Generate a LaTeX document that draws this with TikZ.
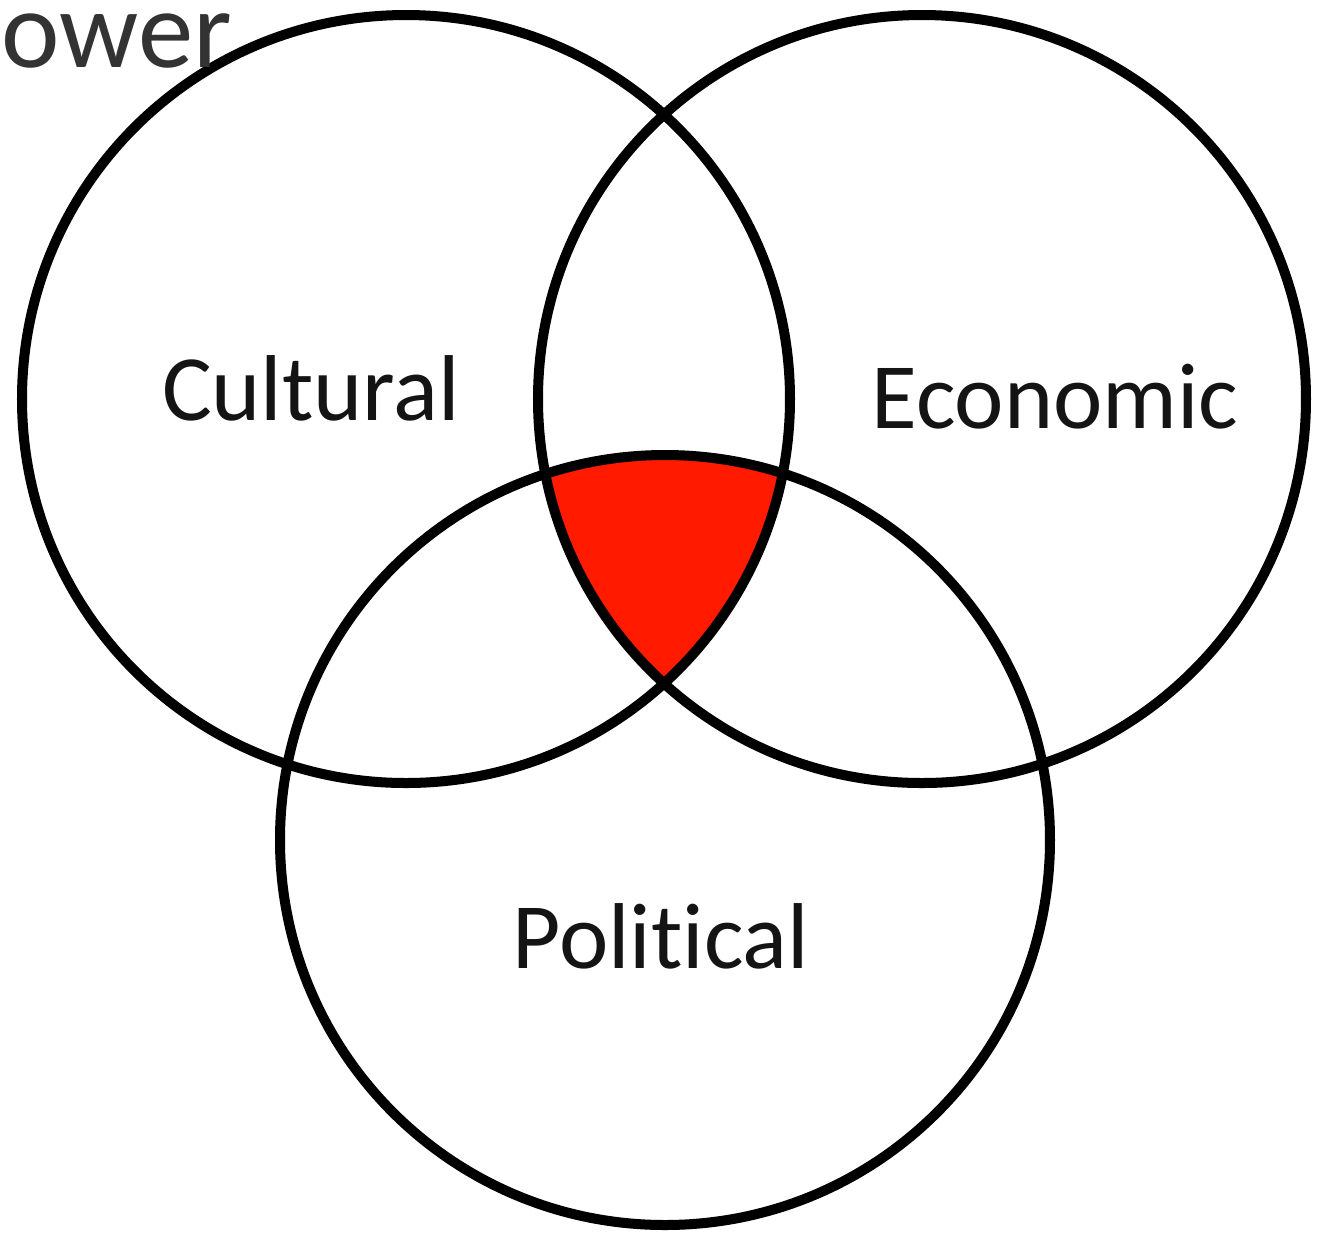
\documentclass[tikz,border=0pt]{standalone}
\usepackage{fontspec}
\setmainfont{Carlito}[Ligatures={NoCommon,NoDiscretionary,NoRare}]
\definecolor{vennred}{RGB}{255,26,0}
\definecolor{txt}{RGB}{20,20,20}
\begin{document}
\begin{tikzpicture}[x=0.01cm,y=-0.01cm,
  ring/.style={draw=black,line width=0.1cm},
  lbl/.style={font=\fontsize{26.6}{30}\selectfont,text=txt,inner sep=0pt,anchor=base},
  ttl/.style={font=\fontsize{31.5}{36}\selectfont,text=black!80,inner sep=0pt,anchor=base west}]
\useasboundingbox (0,0) rectangle (1329,1235);
\coordinate (cc) at (406,399);
\coordinate (ce) at (922,399);
\coordinate (cp) at (665,840);
\begin{scope}
  \clip (cc) circle (384);
  \clip (ce) circle (384);
  \fill[vennred] (cp) circle (385);
\end{scope}
\draw[ring] (cc) circle (384);
\draw[ring] (ce) circle (384);
\draw[ring] (cp) circle (385);
\node[ttl] (power) at (-54,67) {Power};
\node[lbl] (cultural) at (311,420) {Cultural};
\node[lbl] (economic) at (1055,428) {Economic};
\node[lbl] (political) at (661,968) {Political};
\end{tikzpicture}
\end{document}
